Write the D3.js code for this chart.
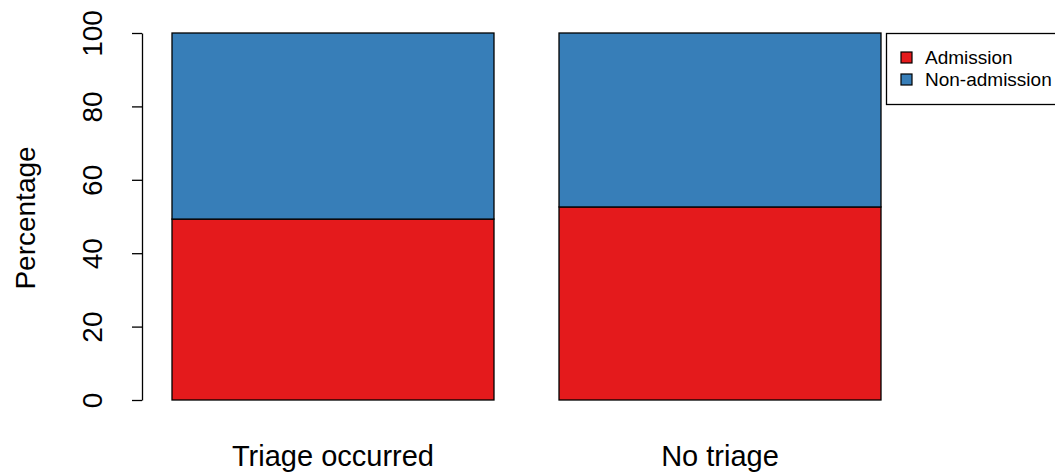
<!DOCTYPE html>
<html><head><meta charset="utf-8">
<script src="https://cdn.jsdelivr.net/npm/d3@7"></script>
<style>body{margin:0;background:#fff;} text{font-family:"Liberation Sans",Arial,sans-serif;}</style>
</head><body>
<svg id="c" width="1055" height="474"></svg>
<script>
const categories = ["Triage occurred", "No triage"];
const admission = [49.3, 52.6];
const nonAdmission = [50.7, 47.4];
const seriesNames = ["Admission", "Non-admission"];
const colors = ["#E41A1C", "#377EB8"];
const yTicks = [0, 20, 40, 60, 80, 100];

const svg = d3.select("#c");
const y = d3.scaleLinear().domain([0, 100]).range([400, 33]);
const x = d3.scaleBand().domain(categories).range([172, 881]).paddingInner(0.168).paddingOuter(0);

const data = categories.map((c, i) => ({cat: c, vals: [admission[i], nonAdmission[i]]}));
data.forEach(d => {
  let base = 0;
  d.vals.forEach((v, j) => {
    svg.append("rect")
      .attr("x", x(d.cat)).attr("width", x.bandwidth())
      .attr("y", y(base + v)).attr("height", y(base) - y(base + v))
      .attr("fill", colors[j]).attr("stroke", "#000").attr("stroke-width", 1.3);
    base += v;
  });
});

const ax = svg.append("g").attr("transform", "translate(142,0)")
  .call(d3.axisLeft(y).tickValues(yTicks).tickSize(10).tickSizeOuter(0));
ax.select(".domain").attr("stroke", "#000").attr("stroke-width", 1.3);
ax.selectAll(".tick line").attr("stroke", "#000").attr("stroke-width", 1.3);
ax.selectAll(".tick text").attr("font-size", 28).attr("fill", "#000")
  .attr("text-anchor", "middle").attr("x", 0).attr("y", 0).attr("dy", "0")
  .attr("transform", "translate(-40,0) rotate(-90)");

svg.append("text").attr("transform", "translate(35,218) rotate(-90)")
  .attr("text-anchor", "middle").attr("font-size", 28).text("Percentage");

categories.forEach(c => {
  svg.append("text").attr("x", x(c) + x.bandwidth()/2).attr("y", 466)
    .attr("text-anchor", "middle").attr("font-size", 29).text(c);
});

const lg = svg.append("g");
lg.append("rect").attr("x", 886.5).attr("y", 33.5).attr("width", 190).attr("height", 71)
  .attr("fill", "#fff").attr("stroke", "#000").attr("stroke-width", 1.3);
seriesNames.forEach((n, i) => {
  lg.append("rect").attr("x", 901).attr("y", 52 + i*22).attr("width", 11).attr("height", 11)
    .attr("fill", colors[i]).attr("stroke", "#000").attr("stroke-width", 1.2);
  lg.append("text").attr("x", 925).attr("y", 64 + i*22).attr("font-size", 19).text(n);
});
</script>
</body></html>
